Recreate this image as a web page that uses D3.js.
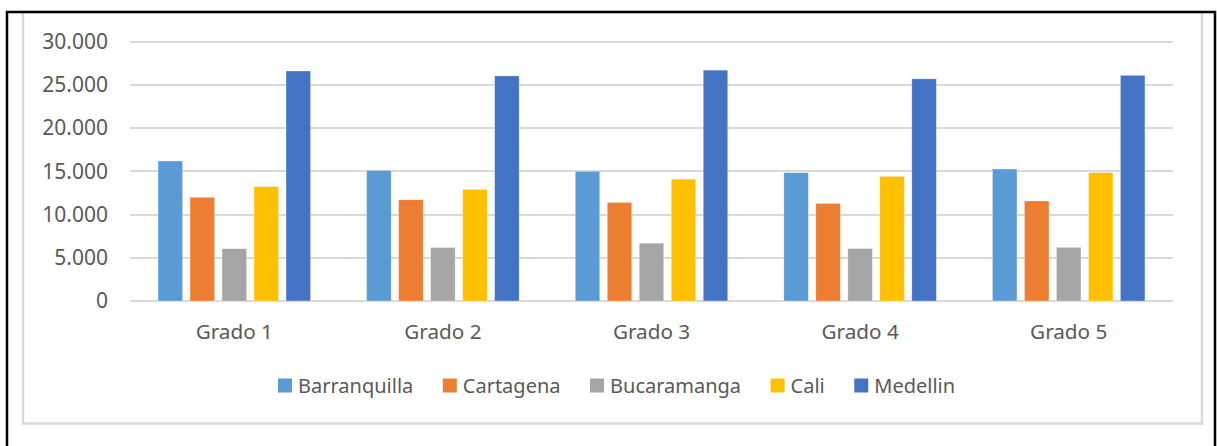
<!DOCTYPE html>
<html lang="es">
  <head>
    <meta charset="utf-8">
    <title>Grados por ciudad</title>
    <style>
      body {margin: 0; background: #fff;}
      svg {display: block;}
      text {font-family: "Noto Sans", "Open Sans", sans-serif; fill: #595959;}
      .grid line {stroke: #d9d9d9; stroke-width: 2; shape-rendering: crispEdges;}
      .axis path, .axis line {display: none;}
      .axis text {fill: #595959;}
      .y.axis text {font-size: 21px;}
      .x.axis text {font-size: 20.7px;}
    </style>
    <script src="https://d3js.org/d3.v7.min.js"></script>
  </head>
  <body>
    <script type="text/javascript">
      // categories and series
      var grados = ["Grado 1", "Grado 2", "Grado 3", "Grado 4", "Grado 5"];
      var ciudades = ["Barranquilla", "Cartagena", "Bucaramanga", "Cali", "Medellin"];
      var colores = ["#5b9bd5", "#ed7d31", "#a5a5a5", "#ffc000", "#4472c4"];

      var barranquilla = [16200, 15110, 15000, 14840, 15270];
      var cartagena = [12000, 11710, 11400, 11290, 11570];
      var bucaramanga = [6050, 6190, 6690, 6070, 6210];
      var cali = [13230, 12910, 14100, 14420, 14850];
      var medellin = [26610, 26040, 26710, 25700, 26110];

      var yTicks = [0, 5000, 10000, 15000, 20000, 25000, 30000];

      var series = [barranquilla, cartagena, bucaramanga, cali, medellin];

      var width = 1217, height = 446;
      var plotLeft = 130, plotRight = 1173, plotTop = 41.7, plotBottom = 301;

      var svg = d3.select("body").append("svg")
        .attr("width", width)
        .attr("height", height);

      // outer frames
      svg.append("rect")
        .attr("x", 23).attr("y", 12)
        .attr("width", 1179).attr("height", 411.5)
        .attr("fill", "#fff")
        .attr("stroke", "#d9d9d9")
        .attr("stroke-width", 2.5);

      svg.append("path")
        .attr("d", "M7," + height + "V12H1215V" + height)
        .attr("fill", "none")
        .attr("stroke", "#000")
        .attr("stroke-width", 2.5);

      // scales
      var y = d3.scaleLinear().domain([0, 30000]).range([plotBottom, plotTop]);
      var x0 = d3.scaleBand().domain(grados).range([plotLeft, plotRight])
        .paddingInner(0.269).paddingOuter(0.1345);
      var x1 = d3.scaleBand().domain(ciudades).range([0, x0.bandwidth()])
        .paddingInner(0.234).paddingOuter(0);

      var fmt = function(d) { return d3.format(",")(d).replace(/,/g, "."); };

      // gridlines
      svg.append("g").attr("class", "grid")
        .selectAll("line")
        .data(yTicks)
        .enter().append("line")
        .attr("x1", plotLeft).attr("x2", plotRight)
        .attr("y1", function(d) { return Math.round(y(d)); })
        .attr("y2", function(d) { return Math.round(y(d)); });

      // y axis labels
      var yAxis = d3.axisLeft(y).tickValues(yTicks).tickFormat(fmt).tickSize(0).tickPadding(22);
      svg.append("g").attr("class", "y axis")
        .attr("transform", "translate(" + plotLeft + ",0)")
        .call(yAxis);

      // x axis labels
      var xAxis = d3.axisBottom(x0).tickSize(0).tickPadding(23);
      svg.append("g").attr("class", "x axis")
        .attr("transform", "translate(0," + plotBottom + ")")
        .call(xAxis);

      // bars
      var groups = svg.append("g").selectAll("g")
        .data(grados)
        .enter().append("g")
        .attr("transform", function(d) { return "translate(" + x0(d) + ",0)"; });

      groups.selectAll("rect")
        .data(function(d, i) {
          return ciudades.map(function(c, j) { return {ciudad: c, valor: series[j][i], color: colores[j]}; });
        })
        .enter().append("rect")
        .attr("x", function(d) { return x1(d.ciudad); })
        .attr("y", function(d) { return y(d.valor); })
        .attr("width", x1.bandwidth())
        .attr("height", function(d) { return plotBottom - y(d.valor); })
        .attr("fill", function(d) { return d.color; })
        .attr("stroke", "#fff")
        .attr("stroke-width", 0.6)
        .attr("stroke-opacity", 0.5);

      // legend
      var legend = svg.append("g");
      var lx = 278, ly = 385.5;
      ciudades.forEach(function(c, i) {
        legend.append("rect")
          .attr("x", lx).attr("y", ly - 7)
          .attr("width", 14).attr("height", 14)
          .attr("fill", colores[i]);
        var t = legend.append("text")
          .attr("x", lx + 20).attr("y", ly + 7.5)
          .attr("font-size", "20px")
          .text(c);
        lx += 20 + t.node().getComputedTextLength() + 29.5;
      });
    </script>
  </body>
</html>
